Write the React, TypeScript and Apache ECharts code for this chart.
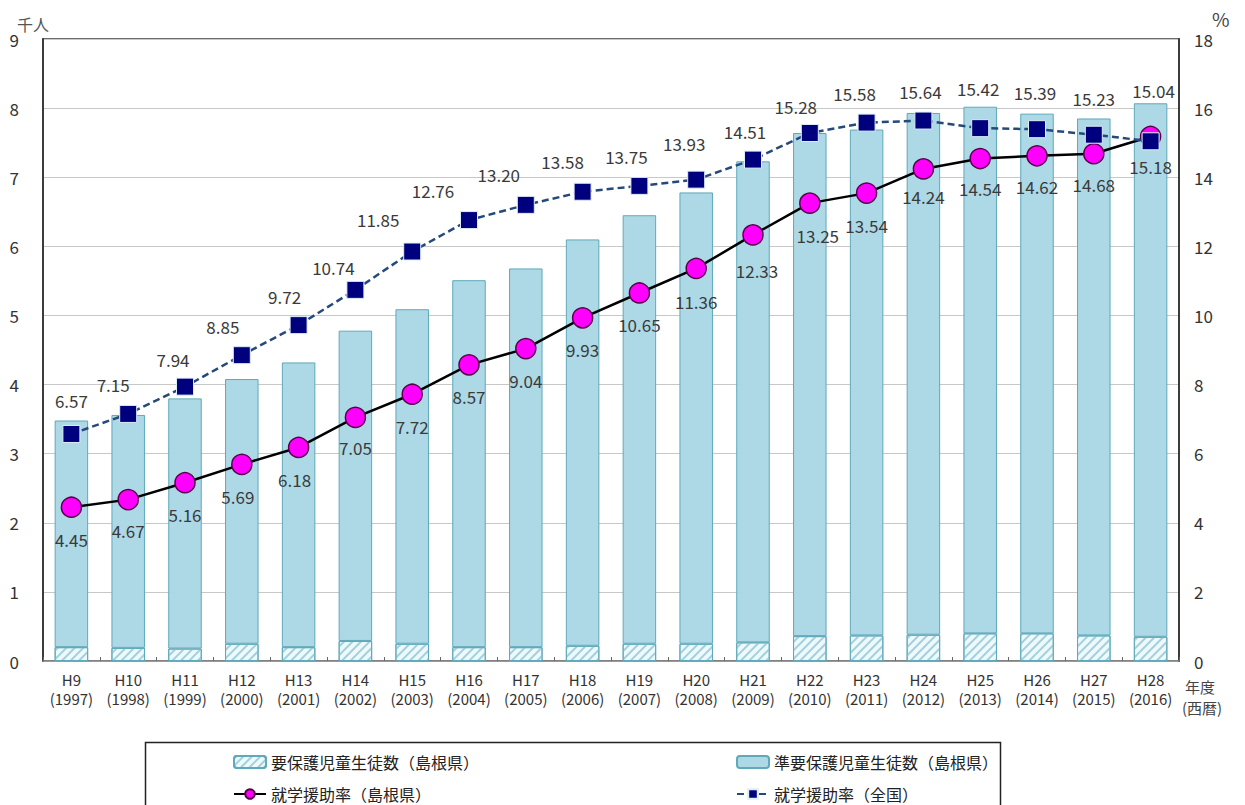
import React, { useEffect, useRef } from "react";
import * as echarts from "echarts";

// ---- data ----
const categories = [
  "H9\n(1997)", "H10\n(1998)", "H11\n(1999)", "H12\n(2000)", "H13\n(2001)",
  "H14\n(2002)", "H15\n(2003)", "H16\n(2004)", "H17\n(2005)", "H18\n(2006)",
  "H19\n(2007)", "H20\n(2008)", "H21\n(2009)", "H22\n(2010)", "H23\n(2011)",
  "H24\n(2012)", "H25\n(2013)", "H26\n(2014)", "H27\n(2015)", "H28\n(2016)",
];
// 千人
const yohogoShimane = [0.20, 0.19, 0.18, 0.25, 0.20, 0.29, 0.25, 0.20, 0.20, 0.22, 0.25, 0.25, 0.27, 0.36, 0.37, 0.38, 0.40, 0.40, 0.37, 0.35];
const junYohogoShimane = [3.28, 3.37, 3.62, 3.83, 4.12, 4.49, 4.84, 5.31, 5.48, 5.88, 6.20, 6.53, 6.96, 7.28, 7.32, 7.55, 7.62, 7.52, 7.48, 7.72];
// %
const rateShimane = [4.45, 4.67, 5.16, 5.69, 6.18, 7.05, 7.72, 8.57, 9.04, 9.93, 10.65, 11.36, 12.33, 13.25, 13.54, 14.24, 14.54, 14.62, 14.68, 15.18];
const rateNational = [6.57, 7.15, 7.94, 8.85, 9.72, 10.74, 11.85, 12.76, 13.20, 13.58, 13.75, 13.93, 14.51, 15.28, 15.58, 15.64, 15.42, 15.39, 15.23, 15.04];

const seriesNames = ["要保護児童生徒数（島根県）", "準要保護児童生徒数（島根県）", "就学援助率（島根県）", "就学援助率（全国）"];
const leftUnit = "千人";
const rightUnit = "%";
const xUnit = ["年度", "(西暦)"];

// label placement (px offsets from marker)
const nationalLabelOffsets = [
  [0, -33], [-15, -29], [-12, -27], [-19, -29], [-14, -29], [-22, -22], [-34, -32], [-36, -30], [-27, -30], [-20, -30],
  [-13, -29], [-12, -36], [-8, -28], [-14, -26], [-12, -29], [-3, -29], [-2, -40], [-2, -37], [0, -36], [3, -51],
];
const shimaneLabelOffsets = [
  [0, 32], [0, 31], [0, 32], [-4, 32], [-4, 32], [0, 30], [0, 32], [0, 32], [0, 32], [0, 32],
  [0, 32], [0, 33], [4, 36], [8, 32], [0, 32], [0, 28], [0, 30], [0, 31], [0, 31], [0, 30],
];

const FONT = "'Noto Sans CJK JP', 'Noto Sans', sans-serif";

export default function App() {
  const ref = useRef<HTMLDivElement>(null);
  useEffect(() => {
    if (!ref.current) return;
    const chart = echarts.init(ref.current, null, { renderer: "svg" });
    const labelStyle = { fontSize: 17, color: "#3a3a3a", fontFamily: FONT };
    const option: any = {
      animation: false,
      backgroundColor: "#ffffff",
      textStyle: { fontFamily: FONT },
      grid: {
        left: 43, right: 66, top: 39, bottom: 144,
        show: true, borderColor: "#3c3c3c", borderWidth: 1.5,
      },
      legend: [
        { data: [seriesNames[0]], left: 228, top: 749 },
        { data: [seriesNames[1]], left: 731, top: 749 },
        { data: [seriesNames[2]], left: 228, top: 781 },
        { data: [seriesNames[3]], left: 731, top: 781 },
      ].map((l) => ({
        ...l,
        itemWidth: 32, itemHeight: 12, itemGap: 6,
        textStyle: { fontSize: 16, color: "#222", fontFamily: FONT },
      })),
      xAxis: {
        type: "category",
        data: categories,
        axisLine: { lineStyle: { color: "#8a8a8a", width: 1.5 } },
        axisTick: { show: true, inside: true, length: 4, lineStyle: { color: "#666" } },
        axisLabel: { color: "#333", fontSize: 15, lineHeight: 19, margin: 9, interval: 0, fontFamily: FONT },
      },
      yAxis: [
        {
          type: "value", min: 0, max: 9, interval: 1,
          axisLine: { show: true, lineStyle: { color: "#3c3c3c", width: 2 } },
          axisTick: { show: false },
          axisLabel: { color: "#333", fontSize: 17, margin: 24, fontFamily: FONT },
          splitLine: { lineStyle: { color: "#c8c8c8", width: 1 } },
        },
        {
          type: "value", min: 0, max: 18, interval: 2,
          axisLine: { show: true, lineStyle: { color: "#3c3c3c", width: 2 } },
          axisTick: { show: false },
          axisLabel: { color: "#333", fontSize: 17, margin: 15, fontFamily: FONT },
          splitLine: { show: false },
        },
      ],
      series: [
        {
          name: seriesNames[0],
          type: "bar",
          stack: "students",
          yAxisIndex: 0,
          barCategoryGap: "41%",
          data: yohogoShimane,
          itemStyle: {
            color: "#eef9fc",
            borderColor: "#5fa9ba",
            borderWidth: 1,
            decal: {
              symbol: "rect",
              symbolSize: 1,
              rotation: -Math.PI / 4,
              dashArrayX: [1, 0],
              dashArrayY: [2, 4],
              color: "#a3d0dc",
            },
          },
        },
        {
          name: seriesNames[1],
          type: "bar",
          stack: "students",
          yAxisIndex: 0,
          data: junYohogoShimane,
          itemStyle: { color: "#add8e6", borderColor: "#5fa9ba", borderWidth: 1 },
        },
        {
          name: seriesNames[2],
          type: "line",
          yAxisIndex: 1,
          data: rateShimane.map((v, i) => ({ value: v, label: { offset: shimaneLabelOffsets[i] } })),
          symbol: "circle",
          symbolSize: 20,
          lineStyle: { color: "#000", width: 2.5 },
          itemStyle: { color: "#ff00ff", borderColor: "#5a004a", borderWidth: 1.5 },
          label: {
            show: true, position: "inside",
            formatter: (p: any) => Number(p.value).toFixed(2),
            ...labelStyle,
          },
          z: 3,
        },
        {
          name: seriesNames[3],
          type: "line",
          yAxisIndex: 1,
          data: rateNational.map((v, i) => ({ value: v, label: { offset: nationalLabelOffsets[i] } })),
          symbol: "rect",
          symbolSize: 17,
          lineStyle: { color: "#254a7a", width: 2.5, type: [7, 4] },
          itemStyle: { color: "#00007f", borderColor: "#ddeef5", borderWidth: 1 },
          label: {
            show: true, position: "inside",
            formatter: (p: any) => Number(p.value).toFixed(2),
            ...labelStyle,
          },
          z: 4,
        },
      ],
      graphic: [
        { type: "text", left: 17, top: 16, style: { text: leftUnit, fontSize: 16, fill: "#555", fontFamily: FONT } },
        { type: "text", left: 1212, top: 9, style: { text: rightUnit, fontSize: 19, fill: "#444", fontFamily: FONT } },
        { type: "text", left: 1185, top: 679, style: { text: xUnit[0], fontSize: 15, fill: "#444", fontFamily: FONT } },
        { type: "text", left: 1182, top: 700, style: { text: xUnit[1], fontSize: 15, fill: "#444", fontFamily: FONT } },
        {
          type: "rect", left: 143, top: 740,
          shape: { width: 855, height: 80 },
          style: { fill: "none", stroke: "#222", lineWidth: 1.5 },
          z: -1,
        },
      ],
    };
    chart.setOption(option);
    return () => chart.dispose();
  }, []);
  return (
    <div
      ref={ref}
      style={{ position: "fixed", left: 0, top: 0, width: 1245, height: 805 }}
    />
  );
}
